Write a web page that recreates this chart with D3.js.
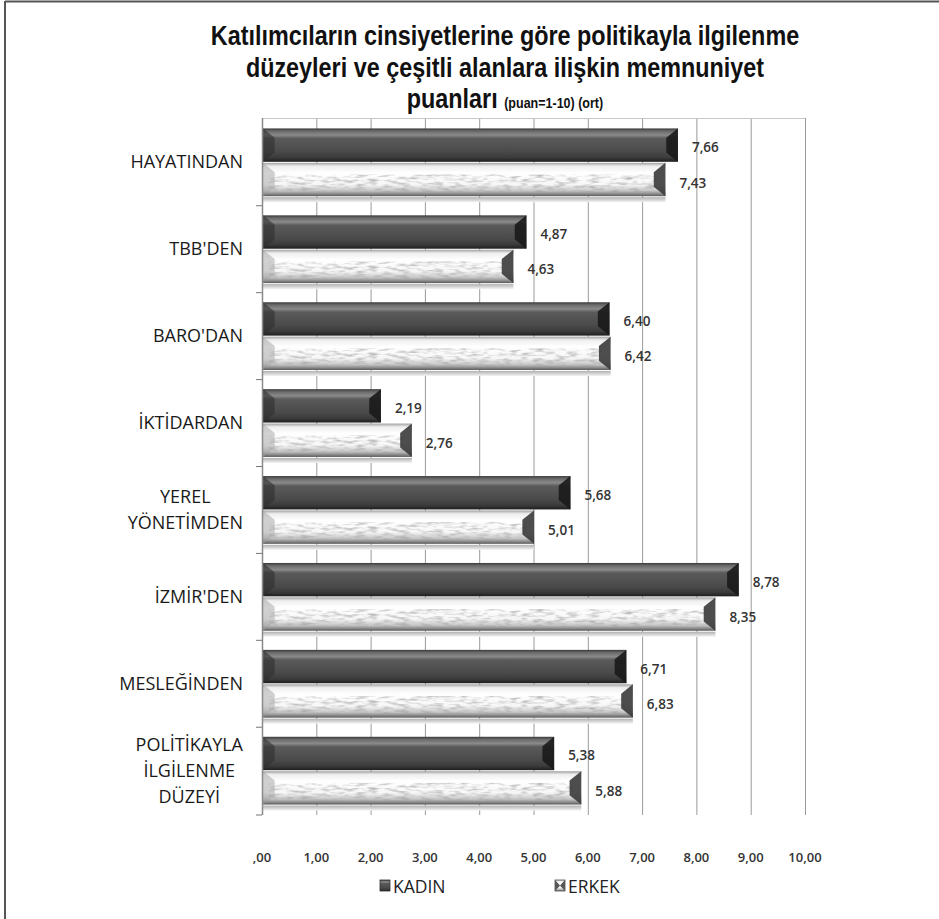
<!DOCTYPE html>
<html><head><meta charset="utf-8">
<script src="https://cdn.jsdelivr.net/npm/d3@7/dist/d3.min.js"></script>
<style>body{margin:0;background:#fff}svg{display:block}</style>
</head><body>
<script>
const categories = [["HAYATINDAN"],["TBB'DEN"],["BARO'DAN"],["İKTİDARDAN"],["YEREL","YÖNETİMDEN"],["İZMİR'DEN"],["MESLEĞİNDEN"],["POLİTİKAYLA","İLGİLENME","DÜZEYİ"]];
const seriesNames = ["KADIN","ERKEK"];
const kadin = [7.66,4.87,6.40,2.19,5.68,8.78,6.71,5.38];
const erkek = [7.43,4.63,6.42,2.76,5.01,8.35,6.83,5.88];
const xTicks = [0,1,2,3,4,5,6,7,8,9,10];
const titleLines = ["Katılımcıların cinsiyetlerine göre politikayla ilgilenme","düzeyleri ve çeşitli alanlara ilişkin memnuniyet"];
const titleLast = "puanları";
const titleSub = "(puan=1-10) (ort)";

const W=939,H=919;
const svg=d3.select("body").append("svg").attr("width",W).attr("height",H);
const defs=svg.append("defs");
const fmt=v=>{const s=d3.format(".2f")(v).replace(".",",");return s.startsWith("0,")?s.slice(1):s;};

// gradients
const gD=defs.append("linearGradient").attr("id","gD").attr("x1",0).attr("y1",0).attr("x2",0).attr("y2",1);
[[0,"#3a3a3a"],[0.08,"#6a6a6a"],[0.2,"#8a8a8a"],[0.3,"#5a5a5a"],[0.7,"#4a4a4a"],[0.88,"#3a3a3a"],[1,"#1e1e1e"]].forEach(s=>gD.append("stop").attr("offset",s[0]).attr("stop-color",s[1]));
const gL=defs.append("linearGradient").attr("id","gL").attr("x1",0).attr("y1",0).attr("x2",0).attr("y2",1);
[[0,"#a0a0a0"],[0.1,"#eeeeee"],[0.3,"#ffffff"],[0.65,"#f6f6f6"],[0.84,"#c4c4c4"],[0.93,"#8a8a8a"],[1,"#5a5a5a"]].forEach(s=>gL.append("stop").attr("offset",s[0]).attr("stop-color",s[1]));
const gS=defs.append("linearGradient").attr("id","gS").attr("x1",0).attr("y1",0).attr("x2",0).attr("y2",1);
[[0,"#b0b0b0"],[1,"#f4f4f4"]].forEach(s=>gS.append("stop").attr("offset",s[0]).attr("stop-color",s[1]));
const f=defs.append("filter").attr("id","noise").attr("x",0).attr("y",0).attr("width",1).attr("height",1);
f.append("feTurbulence").attr("type","fractalNoise").attr("baseFrequency","0.09 0.35").attr("numOctaves",2).attr("seed",3).attr("result","t");
f.append("feColorMatrix").attr("in","t").attr("type","matrix").attr("values","0 0 0 0 0.35  0 0 0 0 0.35  0 0 0 0 0.35  0 0 0 -2.2 1.25").attr("result","n");
f.append("feComposite").attr("in","n").attr("in2","SourceAlpha").attr("operator","in");

// frame
svg.append("line").attr("x1",5).attr("x2",5).attr("y1",1).attr("y2",H).attr("stroke","#555").attr("stroke-width",2);
svg.append("line").attr("x1",5).attr("x2",W).attr("y1",1.5).attr("y2",1.5).attr("stroke","#555").attr("stroke-width",2);

// title (condensed look via horizontal scale)
const tf="'Liberation Sans',Arial,sans-serif";
const tg=svg.append("g").attr("transform","translate(505,0) scale(0.835,1)");
const title=tg.append("text").attr("text-anchor","middle").attr("font-family",tf).attr("font-weight","bold").attr("fill","#111");
titleLines.forEach((t,i)=>title.append("tspan").attr("x",0).attr("y",45+i*32).attr("font-size",28).text(t));
const t3=tg.append("text").attr("text-anchor","middle").attr("x",0).attr("y",108).attr("font-family",tf).attr("font-weight","bold").attr("fill","#111");
t3.append("tspan").attr("font-size",28).text(titleLast+" ");
t3.append("tspan").attr("font-size",15).text(titleSub);

const x=d3.scaleLinear().domain([0,10]).range([262,805]);
const plotTop=118,plotBot=815;
const y0=d3.scaleBand().domain(d3.range(categories.length)).range([plotTop,plotBot]).paddingInner(0.22).paddingOuter(0.12);
const y1=d3.scaleBand().domain(seriesNames).range([0,y0.bandwidth()]).paddingInner(0.03);

// grid
svg.append("g").selectAll("line").data(xTicks.slice(1)).join("line")
 .attr("x1",d=>x(d)+0.5).attr("x2",d=>x(d)+0.5).attr("y1",plotTop).attr("y2",plotBot).attr("stroke","#9a9a9a").attr("stroke-width",1);
svg.append("line").attr("x1",x(0)).attr("x2",x(10)).attr("y1",plotTop+0.5).attr("y2",plotTop+0.5).attr("stroke","#c8c8c8");

// bars
const bf="'Open Sans','Noto Sans',sans-serif";
const groups=svg.append("g").selectAll("g").data(categories.map((c,i)=>({i,vals:[kadin[i],erkek[i]]}))).join("g").attr("transform",d=>`translate(0,${y0(d.i)})`);
groups.each(function(d){
  const g=d3.select(this);
  d.vals.forEach((v,k)=>{
    const s=seriesNames[k];
    const yy=y1(s),h=y1.bandwidth(),x0=x(0)+1,x1=x(v),c=Math.min(12,h*0.35);
    if(k===1){
      g.append("rect").attr("x",x0).attr("y",yy+h+1).attr("width",x1-x0).attr("height",5).attr("fill","url(#gS)");
    }
    g.append("rect").attr("x",x0).attr("y",yy).attr("width",x1-x0).attr("height",h).attr("fill",k===0?"url(#gD)":"url(#gL)");
    if(k===1){
      g.append("rect").attr("x",x0+6).attr("y",yy+h*0.35).attr("width",x1-x0-14).attr("height",h*0.55).attr("fill","#000").attr("filter","url(#noise)").attr("opacity",0.75);
    }
    g.append("path").attr("d",`M${x0},${yy}L${x0+c},${yy+c*0.8}L${x0+c},${yy+h-c*0.8}L${x0},${yy+h}Z`).attr("fill",k===0?"#2e2e2e":"#9a9a9a").attr("opacity",k===0?0.6:0.45);
    g.append("path").attr("d",`M${x1},${yy}L${x1-c},${yy+c*0.8}L${x1-c},${yy+h-c*0.8}L${x1},${yy+h}Z`).attr("fill",k===0?"#1a1a1a":"#3a3a3a").attr("opacity",0.9);
    g.append("text").attr("x",x1+14).attr("y",yy+h/2+(k===0?7:8)).attr("font-family",bf).attr("font-size",13.5).attr("font-weight",600).attr("fill","#333").text(fmt(v));
  });
});

// left axis
svg.append("line").attr("x1",262.5).attr("x2",262.5).attr("y1",plotTop).attr("y2",plotBot).attr("stroke","#8a8a8a").attr("stroke-width",1.5);
const bounds=d3.range(1,categories.length+1).map(i=>i<categories.length?y0(i)-y0.step()*y0.paddingInner()/2:plotBot);
svg.append("g").selectAll("line").data(bounds).join("line").attr("x1",256).attr("x2",262).attr("y1",d=>d).attr("y2",d=>d).attr("stroke","#777");

// category labels
const lf="'Open Sans','Noto Sans',sans-serif";
categories.forEach((lines,i)=>{
  const cy=y0(i)+y0.bandwidth()/2;
  const lh=26;
  const t=svg.append("text").attr("font-family",lf).attr("font-size",18).attr("font-weight",500).attr("fill","#1a1a1a").attr("text-anchor","middle");
  const spans=lines.map((l,j)=>t.append("tspan").attr("y",cy+6+(j-(lines.length-1)/2)*lh).text(l));
  const maxW=d3.max(spans,s=>s.node().getComputedTextLength());
  spans.forEach(s=>s.attr("x",243-maxW/2));
});

// x tick labels
svg.append("g").selectAll("text").data(xTicks).join("text").attr("x",d=>x(d)).attr("y",862).attr("text-anchor","middle")
 .attr("font-family",bf).attr("font-size",13).attr("font-weight",600).attr("fill","#333").text(fmt);

// legend
const leg=[{n:seriesNames[0],x:380},{n:seriesNames[1],x:555}];
leg.forEach((l,k)=>{
  const g=svg.append("g");
  g.append("rect").attr("x",l.x).attr("y",880).attr("width",10).attr("height",11).attr("fill",k===0?"url(#gD)":"url(#gL)").attr("stroke",k===0?"#333":"#555").attr("stroke-width",0.8);
  if(k===1){g.append("path").attr("d",`M${l.x},880L${l.x+5},885.5L${l.x},891ZM${l.x+10},880L${l.x+5},885.5L${l.x+10},891Z`).attr("fill","#555");}
  g.append("text").attr("x",l.x+13).attr("y",893).attr("font-family",lf).attr("font-size",17.5).attr("fill","#222").text(l.n);
});
</script>
</body></html>
